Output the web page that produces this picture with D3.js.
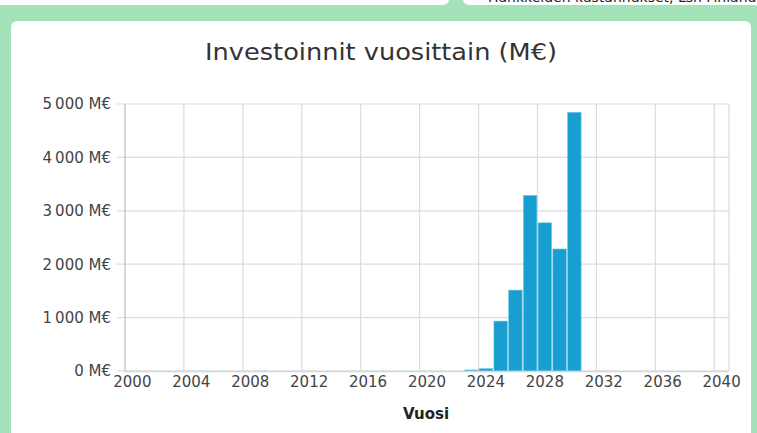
<!DOCTYPE html>
<html>
<head>
<meta charset="utf-8">
<script src="https://cdn.jsdelivr.net/npm/d3@7"></script>
<style>
  html, body { margin: 0; padding: 0; background: #a4e3ba; overflow: hidden; }
  svg { display: block; font-family: "DejaVu Sans", "Noto Sans", sans-serif; }
</style>
</head>
<body>
<svg id="chart" width="757" height="433"></svg>
<script>
var years = d3.range(2000, 2041);
var investments = [
	0, 0, 0, 0, 0, 0, 0, 0, 0, 0,
	0, 0, 0, 0, 0, 0, 0, 0, 0, 0,
	0, 0, 0, 20, 45, 935, 1515, 3290, 2775, 2285,
	4845, 0, 0, 0, 0, 0, 0, 0, 0, 0,
	0
];
var yTicks = [0, 1000, 2000, 3000, 4000, 5000];
var xTickYears = [2000, 2004, 2008, 2012, 2016, 2020, 2024, 2028, 2032, 2036, 2040];

var svg = d3.select('#chart');
var plotLeft = 125, plotRight = 729, plotTop = 104, plotBottom = 371;

var fi = d3.formatLocale({decimal: ',', thousands: '\u2009', grouping: [3], currency: ['', '']});
var fmt = fi.format(',d');

// background cards
svg.append('rect').attr('x', -10).attr('y', -20).attr('width', 459).attr('height', 25).attr('rx', 6).attr('fill', '#fff');
svg.append('rect').attr('x', 463).attr('y', -20).attr('width', 310).attr('height', 25).attr('rx', 6).attr('fill', '#fff');
svg.append('text').attr('x', 488).attr('y', 2).attr('font-size', 14).attr('fill', '#222')
	.text('Hankkeiden kustannukset, Lsn Finland');
svg.append('rect').attr('x', 11).attr('y', 21).attr('width', 740).attr('height', 430).attr('rx', 6).attr('fill', '#fff');

var x = d3.scaleBand().domain(years).range([plotLeft, plotRight]).paddingInner(0.08).paddingOuter(0.04);
var xLin = d3.scaleLinear().domain([2000, 2041]).range([plotLeft, plotRight]);
var y = d3.scaleLinear().domain([0, 5000]).range([plotBottom, plotTop]);

var grid = svg.append('g').attr('stroke', '#dcdcdc').attr('stroke-width', 1.2);

grid.selectAll('line.h').data(yTicks).enter().append('line')
	.attr('x1', plotLeft - 8).attr('x2', plotRight)
	.attr('y1', function (d) { return y(d); })
	.attr('y2', function (d) { return y(d); });

grid.selectAll('line.v').data(xTickYears.concat([2041])).enter().append('line')
	.attr('x1', function (d) { return xLin(d); })
	.attr('x2', function (d) { return xLin(d); })
	.attr('y1', plotTop).attr('y2', plotBottom);

svg.append('g').selectAll('rect').data(years).enter().append('rect')
	.attr('x', function (d) { return x(d); })
	.attr('width', x.bandwidth())
	.attr('y', function (d, i) { return y(investments[i]); })
	.attr('height', function (d, i) { return plotBottom - y(investments[i]); })
	.attr('fill', '#169fd0')
	.attr('stroke', '#7cc8e6')
	.attr('stroke-width', 0.6);

// axis lines
svg.append('line').attr('x1', plotLeft).attr('x2', plotLeft).attr('y1', plotTop).attr('y2', plotBottom + 1)
	.attr('stroke', '#cfcfcf').attr('stroke-width', 1.5);
svg.append('line').attr('x1', plotLeft).attr('x2', plotRight).attr('y1', plotBottom + 0.5).attr('y2', plotBottom + 0.5)
	.attr('stroke', '#c9d9e0').attr('stroke-width', 1.5);

svg.append('g').selectAll('text').data(yTicks).enter().append('text')
	.attr('x', 111)
	.attr('y', function (d) { return y(d); })
	.attr('dy', '0.36em')
	.attr('text-anchor', 'end')
	.attr('font-size', 15)
	.attr('fill', '#444')
	.text(function (d) { return fmt(d) + ' M€'; });

svg.append('g').selectAll('text').data(xTickYears).enter().append('text')
	.attr('x', function (d) { return xLin(d + 0.5); })
	.attr('y', 387)
	.attr('text-anchor', 'middle')
	.attr('font-size', 15)
	.attr('fill', '#444')
	.text(function (d) { return d; });

svg.append('text').attr('x', 381).attr('y', 60).attr('text-anchor', 'middle')
	.attr('font-size', 23).attr('fill', '#333')
	.attr('textLength', 352).attr('lengthAdjust', 'spacingAndGlyphs')
	.text('Investoinnit vuosittain (M€)');

svg.append('text').attr('x', 426).attr('y', 419).attr('text-anchor', 'middle')
	.attr('font-size', 15).attr('font-weight', 700).attr('fill', '#222')
	.text('Vuosi');
</script>
</body>
</html>
